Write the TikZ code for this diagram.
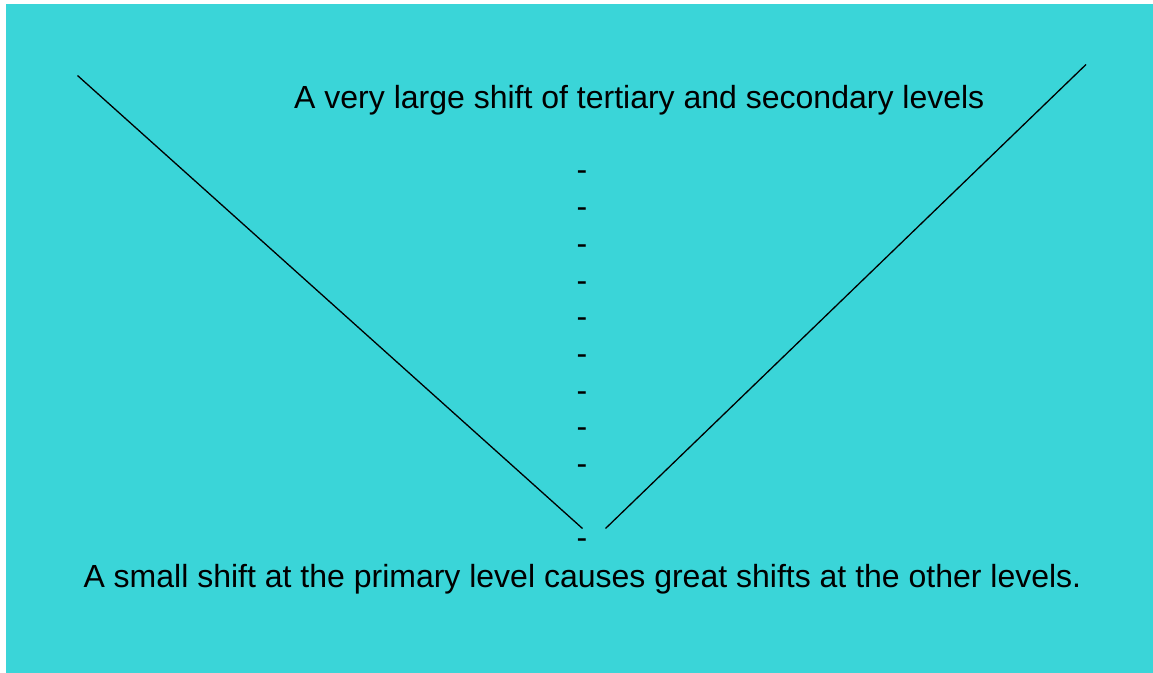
\documentclass[tikz,border=0pt]{standalone}
\usepackage{fontspec}
\setmainfont{Liberation Sans}
\definecolor{bgteal}{HTML}{3AD5D8}
\begin{document}
\begin{tikzpicture}[x=1pt,y=-1pt,
  lbl/.style={inner sep=0pt,font=\fontsize{32}{38}\selectfont,anchor=base west},
  dashmark/.style={inner sep=0pt,font=\fontsize{32}{38}\selectfont,anchor=base},
  vline/.style={line width=1.3pt,black}]
\useasboundingbox (0,0) rectangle (1153,672);
\fill[white] (-5,-5) rectangle (1160,680);
\fill[bgteal] (6,4) rectangle (1160,680);
\node[lbl] (top) at (294,108) {A very large shift of tertiary and secondary levels};
\node[lbl] (bottom) at (83.3,587.3) {A small shift at the primary level causes great shifts at the other levels.};
\foreach \i/\y in {1/172.3,2/209,3/245.7,4/282.4,5/319.1,6/355.8,7/392.5,8/429.2,9/465.9,10/540}{
  \node[dashmark] (d\i) at (582,\y+8.6) {-};
}
\coordinate (ltop) at (77.5,75.5);
\coordinate (lbot) at (582.5,528.5);
\coordinate (rtop) at (1086,64.5);
\coordinate (rbot) at (605.5,528.5);
\draw[vline] (ltop) -- (lbot);
\draw[vline] (rtop) -- (rbot);
\end{tikzpicture}
\end{document}
